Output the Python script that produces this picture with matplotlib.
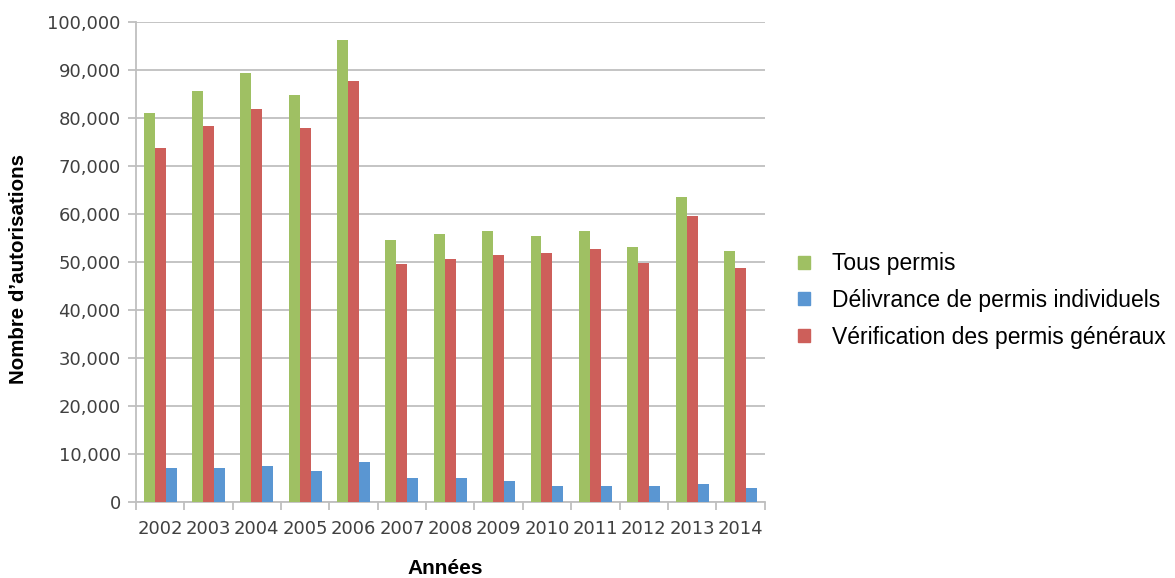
import numpy as np
import matplotlib.pyplot as plt
from matplotlib.patches import Patch

# Données
annees = ['2002', '2003', '2004', '2005', '2006', '2007', '2008',
          '2009', '2010', '2011', '2012', '2013', '2014']
tous_permis = [81000, 85700, 89300, 84700, 96300, 54600, 55800,
               56500, 55500, 56500, 53200, 63500, 52200]
verif_generaux = [73800, 78400, 81800, 78000, 87700, 49600, 50600,
                  51500, 51900, 52800, 49800, 59600, 48800]
indiv = [7050, 7050, 7500, 6500, 8400, 5100, 5100,
         4400, 3400, 3400, 3400, 3800, 3000]

vert = '#9FC063'
bleu = '#5A96D2'
rouge = '#CD5F5A'
gris = '#BFBFBF'

fig = plt.figure(figsize=(11.75, 5.78), dpi=100)
ax = fig.add_axes([0.1157, 0.1315, 0.535, 0.8305])

x = np.arange(len(annees))
w = 0.227
ax.bar(x - w, tous_permis, w, color=vert, zorder=3)
ax.bar(x, verif_generaux, w, color=rouge, zorder=3)
ax.bar(x + w, indiv, w, color=bleu, zorder=3)

ax.set_xlim(-0.5, len(annees) - 0.5)
ax.set_ylim(0, 100000)
ax.set_yticks(np.arange(0, 100001, 10000))
ax.set_yticklabels([f'{v:,}' for v in range(0, 100001, 10000)])
ax.yaxis.grid(True, color=gris, linewidth=1.3, zorder=0)

ax.set_xticks(x)
ax.set_xticklabels(annees)
ax.set_xticks(np.arange(-0.5, len(annees), 1), minor=True)
ax.tick_params(axis='x', which='major', length=0, pad=13,
               labelsize=13, labelcolor='#404040')
ax.tick_params(axis='x', which='minor', length=6, color=gris, width=1.3)
ax.tick_params(axis='y', length=6, color=gris, width=1.3, pad=5,
               labelsize=13, labelcolor='#404040')

for s in ['top', 'right']:
    ax.spines[s].set_visible(False)
for s in ['left', 'bottom']:
    ax.spines[s].set_color(gris)
    ax.spines[s].set_linewidth(1.3)

fig.text(0.016, 0.535, 'Nombre d\u2019autorisations', rotation=90,
         ha='center', va='center', fontsize=14.8, fontweight='bold',
         family='Liberation Sans')
fig.text(0.379, 0.016, 'Années', ha='center', va='center',
         fontsize=15, fontweight='bold', family='Liberation Sans')

handles = [Patch(color=vert, label='Tous permis'),
           Patch(color=bleu, label='Délivrance de permis individuels'),
           Patch(color=rouge, label='Vérification des permis généraux')]
fig.legend(handles=handles, loc='center left', bbox_to_anchor=(0.6615, 0.48),
           frameon=False, handlelength=0.55, handleheight=0.5,
           handletextpad=0.95, labelspacing=0.6,
           prop={'family': 'Liberation Sans', 'size': 16.5})

fig.savefig('out.png', dpi=100)
